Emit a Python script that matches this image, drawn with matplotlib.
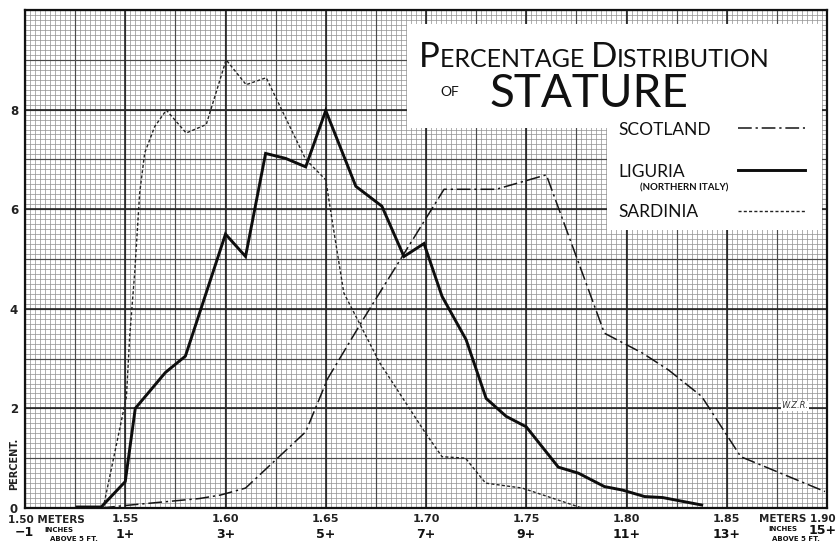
import matplotlib
matplotlib.use("Agg")
import matplotlib.pyplot as plt
import numpy as np
from matplotlib.patches import Polygon
from matplotlib.lines import Line2D

# ---------------- data ----------------
scotland_x = [1.538, 1.550, 1.587, 1.5975, 1.610, 1.640, 1.651, 1.669, 1.709, 1.735,
              1.760, 1.789, 1.808, 1.821, 1.8375, 1.857, 1.899]
scotland_y = [0.00, 0.05, 0.19, 0.26, 0.40, 1.53, 2.60, 3.81, 6.40, 6.40,
              6.69, 3.51, 3.11, 2.77, 2.24, 1.03, 0.33]

liguria_x = [1.526, 1.538, 1.550, 1.555, 1.570, 1.580, 1.600, 1.610, 1.620, 1.630,
             1.640, 1.650, 1.665, 1.678, 1.689, 1.699, 1.708, 1.720, 1.730, 1.740,
             1.750, 1.766, 1.776, 1.789, 1.798, 1.809, 1.818, 1.8375]
liguria_y = [0.02, 0.02, 0.53, 2.00, 2.72, 3.05, 5.50, 5.05, 7.12, 7.02,
             6.85, 7.98, 6.46, 6.06, 5.05, 5.31, 4.25, 3.38, 2.20, 1.84,
             1.63, 0.82, 0.70, 0.43, 0.36, 0.23, 0.21, 0.06]

sardinia_x = [1.539, 1.5506, 1.5522, 1.5547, 1.5572, 1.5597, 1.5647, 1.5705, 1.5804,
              1.5904, 1.6003, 1.6103, 1.6203, 1.640, 1.650, 1.6534, 1.659, 1.677,
              1.6998, 1.708, 1.7197, 1.7297, 1.748, 1.7778]
sardinia_y = [0.00, 2.24, 3.44, 4.72, 6.33, 7.13, 7.66, 7.99, 7.53,
              7.70, 9.00, 8.50, 8.64, 7.00, 6.59, 5.72, 4.32, 2.91,
              1.50, 1.03, 1.00, 0.50, 0.40, 0.00]

meter_ticks = [1.55, 1.60, 1.65, 1.70, 1.75, 1.80, 1.85]
meter_labels = ["1.55", "1.60", "1.65", "1.70", "1.75", "1.80", "1.85"]
inch_labels = ["1+", "3+", "5+", "7+", "9+", "11+", "13+"]
pct_ticks = [0, 2, 4, 6, 8]

# ---------------- figure ----------------
W, H = 838, 550
fig = plt.figure(figsize=(W / 100, H / 100), dpi=100)
fig.patch.set_facecolor("white")
ax = fig.add_axes([25 / W, (H - 508) / H, 802 / W, 498 / H])
ax.set_xlim(1.50, 1.90)
ax.set_ylim(0, 10)

def P(x, y):
    return (x / W, 1 - y / H)

# graph-paper grid
fine_x = np.arange(1.50, 1.9001, 0.0025)
fine_y = np.arange(0, 10.001, 0.1)
ax.vlines(fine_x, 0, 10, color="#909090", lw=0.5, zorder=0)
ax.hlines(fine_y, 1.50, 1.90, color="#909090", lw=0.5, zorder=0)
med_x = np.arange(1.50, 1.9001, 0.025)
med_y = np.arange(0, 10.001, 1.0)
ax.vlines(med_x, 0, 10, color="#4a4a4a", lw=0.85, zorder=0.5)
ax.hlines(med_y, 1.50, 1.90, color="#4a4a4a", lw=0.85, zorder=0.5)
maj_x = np.arange(1.50, 1.9001, 0.05)
maj_y = np.arange(0, 10.001, 2.0)
ax.vlines(maj_x, 0, 10, color="#262626", lw=1.2, zorder=0.6)
ax.hlines(maj_y, 1.50, 1.90, color="#262626", lw=1.2, zorder=0.6)

for s in ax.spines.values():
    s.set_linewidth(1.6)
    s.set_color("#111111")

# curves
ax.plot(scotland_x, scotland_y, color="#151515", lw=1.1,
        linestyle=(0, (9, 2.5, 1.5, 2.5)), zorder=4)
ax.plot(liguria_x, liguria_y, color="#0d0d0d", lw=2.1, zorder=4,
        solid_joinstyle="miter")
ax.plot(sardinia_x, sardinia_y, color="#222222", lw=1.0,
        linestyle=(0, (2.2, 1.6)), zorder=4)

# ticks
ax.set_xticks(meter_ticks)
ax.set_xticklabels(meter_labels, fontsize=8, fontweight="bold", color="#222")
ax.set_yticks(pct_ticks)
ax.set_yticklabels([str(v) for v in pct_ticks], fontsize=8.5, fontweight="bold",
                   color="#222")
ax.tick_params(axis="both", length=0)
ax.tick_params(axis="x", pad=4)
ax.tick_params(axis="y", pad=5)

for xt, il in zip(meter_ticks, inch_labels):
    ax.annotate(il, (xt, 0), xycoords=("data", "axes fraction"),
                xytext=(0, -27), textcoords="offset pixels",
                ha="center", va="center", fontsize=9, fontweight="bold", color="#111")

small = dict(fontsize=5, fontweight="bold", color="#111", va="center", ha="left")
fig.text(*P(8, 520), "1.50 METERS", ha="left", va="center", fontsize=7.5,
         fontweight="bold", color="#222")
fig.text(*P(836, 519), "METERS 1.90", ha="right", va="center", fontsize=7.5,
         fontweight="bold", color="#222")
fig.text(*P(15, 533), "\u22121", ha="left", va="center", fontsize=9,
         fontweight="bold", color="#111")
fig.text(*P(44, 530), "INCHES", **small)
fig.text(*P(50, 539), "ABOVE 5 FT.", **small)
fig.text(*P(768, 529), "INCHES", **small)
fig.text(*P(772, 539), "ABOVE 5 FT.", **small)
fig.text(*P(837, 530), "15+", ha="right", va="center", fontsize=9,
         fontweight="bold", color="#111")
fig.text(*P(14, 464), "PERCENT.", ha="center", va="center", rotation=90,
         fontsize=7, fontweight="bold", color="#222")

# title / legend box
box = Polygon([P(407, 24), P(822, 24), P(822, 230), P(607, 230), P(607, 128),
               P(407, 128)], closed=True, transform=fig.transFigure,
              facecolor="white", edgecolor="none", zorder=2)
fig.add_artist(box)

fig.canvas.draw()
rend = fig.canvas.get_renderer()
TF = "Lato"

def seq(pieces, x0, ybase):
    x = x0
    for s, fs in pieces:
        t = fig.text(*P(x, ybase), s, fontsize=fs, ha="left", va="baseline",
                     family=TF, color="#111", zorder=3)
        bb = t.get_window_extent(rend)
        x += bb.width

seq([("P", 25), ("ERCENTAGE ", 18), ("D", 25), ("ISTRIBUTION", 18)], 419, 67)
fig.text(*P(440, 96), "OF", fontsize=10, family=TF, color="#111", zorder=3,
         ha="left", va="baseline")
fig.text(*P(490, 107), "STATURE", fontsize=33, family=TF, color="#111", zorder=3,
         ha="left", va="baseline")

leg = dict(fontsize=12.5, family=TF, color="#111", zorder=3, ha="left", va="baseline")
fig.text(*P(618, 135), "SCOTLAND", **leg)
fig.text(*P(618, 177), "LIGURIA", **leg)
fig.text(*P(640, 190), "(NORTHERN ITALY)", fontsize=7, fontweight="bold",
         family=TF, color="#111", zorder=3, ha="left", va="baseline")
fig.text(*P(618, 217), "SARDINIA", **leg)

fig.add_artist(Line2D([738 / W, 805 / W], [1 - 128 / H] * 2, color="#151515",
                      lw=1.1, linestyle=(0, (9, 2.5, 1.5, 2.5)), zorder=3))
fig.add_artist(Line2D([738 / W, 805 / W], [1 - 170 / H] * 2, color="#0d0d0d",
                      lw=2.1, zorder=3))
fig.add_artist(Line2D([738 / W, 805 / W], [1 - 211 / H] * 2, color="#222222",
                      lw=1.0, linestyle=(0, (2.2, 1.6)), zorder=3))

ax.text(1.884, 2.05, "W.Z.R.", fontsize=6, style="italic", color="#333",
        ha="center", va="center", zorder=3,
        bbox=dict(facecolor="white", edgecolor="none", pad=0.5))

fig.savefig("out.png", dpi=100, facecolor="white")
